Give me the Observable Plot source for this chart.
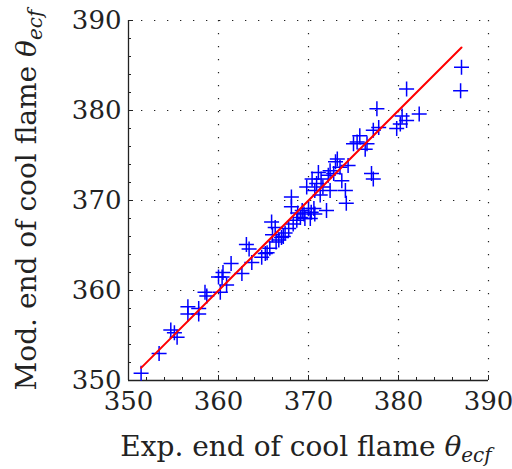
<!DOCTYPE html>
<html>
<head>
<meta charset="utf-8">
<script src="https://cdn.jsdelivr.net/npm/d3@7"></script>
<script src="https://cdn.jsdelivr.net/npm/@observablehq/plot@0.6"></script>
<style>
  html, body { margin: 0; padding: 0; background: #fff; }
</style>
</head>
<body>
<div id="chart"></div>
<script>
// Experimental end of cool flame (x) and modelled end of cool flame (y)
const expValues = [351.4, 353.4, 354.7, 355.1, 355.4, 356.6, 356.6, 357.8, 357.8, 358.5, 358.7, 360.0, 360.4, 360.2, 360.9, 361.4, 362.6, 363.1, 363.4, 363.7, 364.8, 365.2, 365.7, 365.9, 366.3, 366.7, 367.0, 367.4, 367.8, 368.1, 368.1, 368.3, 368.7, 369.1, 369.3, 369.5, 369.8, 370.0, 370.3, 370.6, 370.7, 370.4, 370.7, 370.9, 371.1, 371.3, 371.6, 372.0, 372.4, 372.4, 372.8, 373.0, 373.5, 373.7, 374.1, 374.2, 374.4, 375.0, 375.4, 375.7, 376.3, 376.5, 377.0, 377.2, 377.6, 377.2, 377.8, 379.8, 380.2, 380.4, 380.9, 380.9, 382.3, 387.0, 386.9, 366.0, 367.2, 368.8, 369.6, 370.2, 371.4, 372.2, 373.2, 366.4, 365.4, 360.5];
const modValues = [350.8, 353.0, 355.6, 355.3, 354.8, 358.2, 357.4, 358.0, 357.4, 359.8, 359.4, 361.5, 361.5, 359.8, 360.6, 363.0, 361.9, 365.1, 364.6, 363.1, 363.7, 364.1, 364.7, 367.6, 367.0, 365.6, 365.9, 366.4, 366.9, 370.4, 369.3, 367.4, 367.8, 368.1, 368.9, 368.5, 371.5, 369.1, 368.7, 369.1, 368.5, 372.4, 371.1, 371.9, 373.1, 370.6, 371.5, 368.9, 371.1, 373.3, 373.0, 374.3, 373.7, 372.2, 371.1, 369.7, 373.9, 376.3, 376.5, 377.2, 375.7, 376.3, 373.0, 372.4, 380.2, 377.8, 378.1, 378.0, 378.5, 379.4, 378.9, 382.4, 379.6, 384.8, 382.2, 366.2, 366.0, 368.6, 368.0, 368.0, 372.4, 372.8, 374.6, 365.4, 364.2, 362.0];
// Parity (y = x) line end points
const parityLine = [351.4, 387.0];
const majorTicks = [350, 360, 370, 380, 390];
const minorTicks = d3.range(350, 391, 2);
const gridTicks = [360, 370, 380, 390];
const xLabel = "Exp. end of cool flame ";
const yLabel = "Mod. end of cool flame ";

const points = expValues.map((e, i) => ({exp: e, mod: modValues[i]}));
const lineData = parityLine.map(v => ({x: v, y: v}));

const plusSymbol = {
  draw(context, size) {
    const r = Math.sqrt(size / Math.PI);
    context.moveTo(-r, 0); context.lineTo(r, 0);
    context.moveTo(0, -r); context.lineTo(0, r);
  }
};

const font = "'DejaVu Serif', 'Liberation Serif', serif";

const chart = Plot.plot({
  width: 512,
  height: 469,
  marginLeft: 128,
  marginRight: 24,
  marginTop: 20,
  marginBottom: 89,
  style: {fontFamily: font, fontSize: "26px", color: "#222", background: "#fff"},
  x: {domain: [350, 390], label: null},
  y: {domain: [350, 390], label: null},
  marks: [
    Plot.gridX(gridTicks, {stroke: "#222", strokeOpacity: 1, strokeWidth: 1.2, strokeDasharray: "1.3,11.7"}),
    Plot.gridY(gridTicks, {stroke: "#222", strokeOpacity: 1, strokeWidth: 1.2, strokeDasharray: "1.3,11.7"}),
    Plot.axisX(minorTicks, {tickSize: -3, text: null, stroke: "#222"}),
    Plot.axisY(minorTicks, {tickSize: -3, text: null, stroke: "#222"}),
    Plot.axisX(majorTicks, {tickSize: -5, tickPadding: 16, stroke: "#222", fill: "#222", tickFormat: d => String(d), fontSize: 26}),
    Plot.axisY(majorTicks, {tickSize: -5, tickPadding: 12, stroke: "#222", fill: "#222", tickFormat: d => String(d), fontSize: 26}),
    Plot.ruleY([350], {stroke: "#222", strokeWidth: 1.3}),
    Plot.ruleX([350], {stroke: "#222", strokeWidth: 1.3}),
    Plot.dot(points, {x: "exp", y: "mod", symbol: plusSymbol, r: 7.5, stroke: "#0000ff", strokeWidth: 1.5, fill: "none"}),
    Plot.line(lineData, {x: "x", y: "y", stroke: "#ff0000", strokeWidth: 2})
  ]
});

document.getElementById("chart").appendChild(chart);

const svg = d3.select(chart);
function addLabel(text, x, y, rotate) {
  const t = svg.append("text")
    .attr("text-anchor", "middle")
    .attr("font-family", font)
    .attr("font-size", 28)
    .attr("fill", "#222")
    .attr("transform", `translate(${x},${y})` + (rotate ? " rotate(-90)" : ""));
  t.append("tspan").text(text);
  t.append("tspan").attr("font-style", "italic").text("θ");
  t.append("tspan").attr("font-style", "italic").attr("font-size", 20).attr("dy", 6).text("ecf");
}
addLabel(xLabel, 306, 456, false);
addLabel(yLabel, 36, 200, true);
</script>
</body>
</html>
